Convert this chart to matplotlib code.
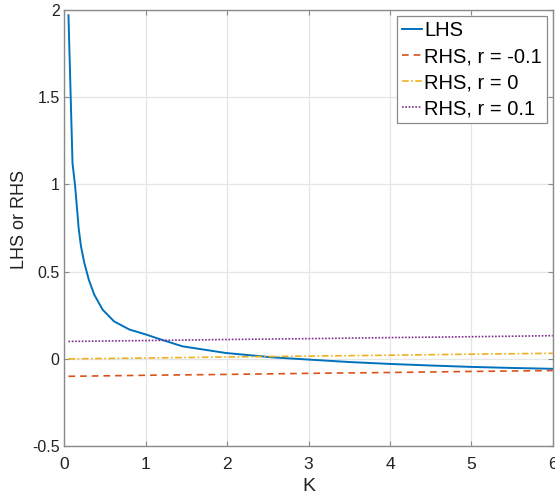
import matplotlib.pyplot as plt
import numpy as np

plt.rcParams['font.family'] = ['Liberation Sans', 'DejaVu Sans']
plt.rcParams['axes.unicode_minus'] = False

# LHS curve
k_lhs = [0.05, 0.1, 0.13, 0.163, 0.175, 0.204, 0.245, 0.30, 0.367, 0.47, 0.61,
         0.80, 1.0, 1.16, 1.45, 1.98, 2.55, 3.0, 3.5, 4.0, 4.5, 5.0, 5.5, 6.0]
lhs = [1.97, 1.12, 1.0, 0.82, 0.75, 0.645, 0.55, 0.454, 0.368, 0.282, 0.215,
       0.168, 0.14, 0.115, 0.072, 0.034, 0.009, -0.004, -0.018, -0.029,
       -0.038, -0.046, -0.052, -0.057]

# RHS lines for three r values
k_rhs = [0.05, 1, 2, 3, 4, 5, 6]
rhs_neg = [-0.100, -0.094, -0.089, -0.083, -0.078, -0.072, -0.067]
rhs_zero = [0.000, 0.005, 0.011, 0.016, 0.021, 0.027, 0.032]
rhs_pos = [0.100, 0.105, 0.111, 0.116, 0.122, 0.127, 0.133]

xticks = [0, 1, 2, 3, 4, 5, 6]
yticks = [-0.5, 0, 0.5, 1, 1.5, 2]
ytick_labels = ['-0.5', '0', '0.5', '1', '1.5', '2']

fig = plt.figure(figsize=(5.55, 4.99), dpi=100)
ax = fig.add_axes([0.116, 0.106, 0.880, 0.874])

ax.plot(k_lhs, lhs, color='#0072BD', lw=1.4, label='LHS')
ax.plot(k_rhs, rhs_neg, color='#D95319', lw=1.2, ls=(0, (4, 3)), label='RHS, r = -0.1')
ax.plot(k_rhs, rhs_zero, color='#EDB120', lw=1.2, ls=(0, (4, 1.5, 1, 1.5)), label='RHS, r = 0')
ax.plot(k_rhs, rhs_pos, color='#7E2F8E', lw=1.2, ls=(0, (1, 1)), label='RHS, r = 0.1')

ax.set_xlim(0, 6)
ax.set_ylim(-0.5, 2)
ax.set_xticks(xticks)
ax.set_yticks(yticks)
ax.set_yticklabels(ytick_labels)

ax.grid(True, color='#e6e6e6', lw=0.9)
ax.set_axisbelow(True)
for s in ax.spines.values():
    s.set_color('#8a8a8a')
    s.set_linewidth(1.0)
ax.tick_params(direction='in', length=3.6, width=0.8, color='#8a8a8a',
               top=True, right=True, labelcolor='#222222')
ax.tick_params(axis='x', labelsize=12.5, pad=8)
ax.tick_params(axis='y', labelsize=11.5, pad=3.5)

ax.set_xlabel('K', fontsize=14, color='#222222', labelpad=4)
ax.set_ylabel('LHS or RHS', fontsize=13, color='#222222')
ax.yaxis.set_label_coords(-0.074, 0.52)

leg = ax.legend(loc='upper right', fontsize=14.5, handlelength=1.0,
                handletextpad=0.08, borderaxespad=0.3, labelspacing=0.35,
                fancybox=False, framealpha=1, borderpad=0.25)
leg.get_frame().set_edgecolor('#8a8a8a')
leg.get_frame().set_linewidth(0.9)

fig.savefig('out.png', dpi=100)
